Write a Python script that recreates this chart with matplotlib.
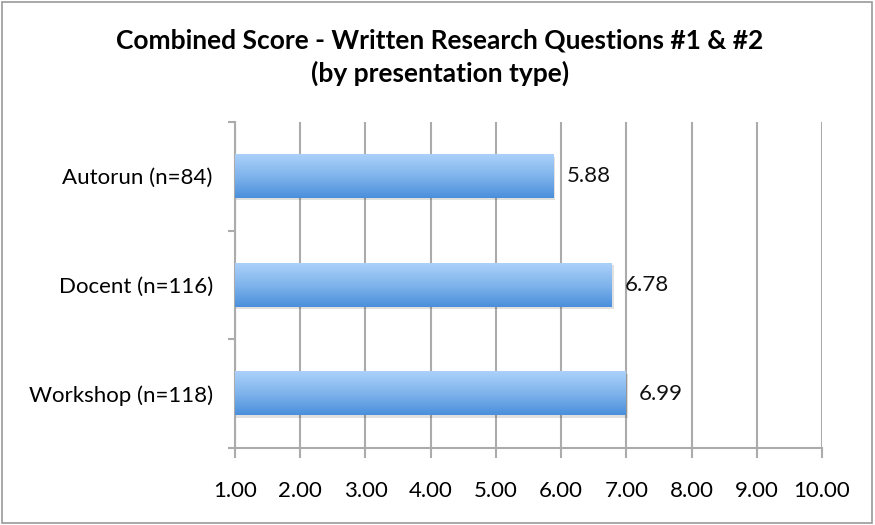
import numpy as np
import matplotlib.pyplot as plt
from matplotlib.colors import LinearSegmentedColormap
from matplotlib.patches import Rectangle

categories = ["Autorun (n=84)", "Docent (n=116)", "Workshop (n=118)"]
scores = [5.88, 6.78, 6.99]
x_ticks = [1, 2, 3, 4, 5, 6, 7, 8, 9, 10]
title = "Combined Score - Written Research Questions #1 & #2\n(by presentation type)"

plt.rcParams["font.family"] = ["Lato", "DejaVu Sans"]
GRID = "#ababab"

fig = plt.figure(figsize=(8.75, 5.25), dpi=100)
ax = fig.add_axes([0.2686, 0.1467, 0.6708, 0.6209])

ypos = np.arange(len(categories))
bars = ax.barh(ypos, [s - 1 for s in scores], left=1, height=0.4,
               color="none", edgecolor="none", zorder=3)

# gradient fill, light on top -> darker at bottom (y axis is inverted)
cmap = LinearSegmentedColormap.from_list("barfill", ["#abd1fa", "#80b4ec", "#4a8fdb"])
grad = np.linspace(0, 1, 256).reshape(-1, 1)
for b in bars:
    x0, y0 = b.get_x(), b.get_y()
    w, h = b.get_width(), b.get_height()
    # faint shadow under the bar
    ax.add_patch(Rectangle((x0, y0 + 0.02), w + 0.03, h, facecolor="#000000",
                           alpha=0.12, edgecolor="none", zorder=2))
    ax.imshow(grad, cmap=cmap, aspect="auto", extent=(x0, x0 + w, y0, y0 + h),
              origin="lower", zorder=3)

for y, s in zip(ypos, scores):
    ax.text(s + 0.2, y, f"{s:.2f}", va="center", ha="left", fontsize=16, color="#111111")

ax.set_xlim(1, 10)
ax.set_ylim(2.5, -0.5)
ax.set_xticks(x_ticks)
ax.set_xticklabels([f"{v:.2f}" for v in x_ticks], fontsize=16)
ax.set_yticks(ypos)
ax.set_yticklabels(categories, fontsize=16)
ax.set_yticks([-0.5, 0.5, 1.5, 2.5], minor=True)
ax.tick_params(axis="y", which="major", length=0, pad=16)
ax.tick_params(axis="y", which="minor", length=5, color=GRID, width=1.5, direction="out")
ax.tick_params(axis="x", length=7, color=GRID, width=1.5, direction="out", pad=17)

ax.grid(axis="x", color=GRID, linewidth=1.5, zorder=1)
ax.set_axisbelow(True)
for side in ("top", "right"):
    ax.spines[side].set_visible(False)
for side in ("left", "bottom"):
    ax.spines[side].set_color(GRID)
    ax.spines[side].set_linewidth(1.5)

fig.text(0.503, 0.946, title, ha="center", va="top", fontsize=19,
         fontweight="bold", linespacing=1.38)

fig.patches.append(Rectangle((0.002, 0.003), 0.995, 0.993, transform=fig.transFigure,
                             fill=False, edgecolor="#9a9a9a", linewidth=1.2))

fig.savefig("out.png", dpi=100)
